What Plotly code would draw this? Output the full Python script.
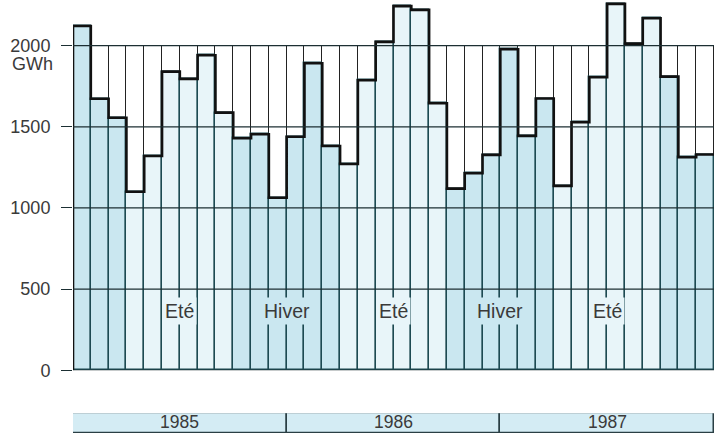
import plotly.graph_objects as go

# ---- data ----
years = [1985, 1986, 1987]
month_index = list(range(36))
values = [2121, 1673, 1556, 1100, 1320, 1840, 1795, 1941, 1587, 1429, 1454, 1063,
          1439, 1891, 1382, 1271, 1787, 2023, 2243, 2220, 1645, 1119, 1214, 1327,
          1978, 1444, 1674, 1136, 1528, 1805, 2257, 2012, 2169, 1809, 1312, 1329]
y_ticks = [0, 500, 1000, 1500, 2000]
season_labels = ["Eté", "Hiver", "Eté", "Hiver", "Eté"]
unit_label = "GWh"

# ---- styles ----
LIGHT = "#e8f5f9"
DARK = "#cae7f0"
GRID = "#1c2f33"
BARLINE = "#1d4a52"
TEXT = "#3a3a3a"
FONT = "Liberation Sans, Arial, sans-serif"

def is_summer(i):
    m = i % 12
    return 3 <= m <= 8

fill_colors = [LIGHT if is_summer(i) else DARK for i in month_index]

fig = go.Figure()

# column frames up to the 2000 level (white region lines)
fig.add_trace(go.Bar(x=month_index, y=[y_ticks[-1]] * 36, width=1,
                     marker=dict(color="rgba(0,0,0,0)", line=dict(color="#222", width=1)),
                     hoverinfo="skip", showlegend=False))
# filled bars
fig.add_trace(go.Bar(x=month_index, y=values, width=1,
                     marker=dict(color=fill_colors, line=dict(color=BARLINE, width=1.4)),
                     showlegend=False))
# step outline
sx = [month_index[0] - 0.5] + [i - 0.5 for i in month_index] + [month_index[-1] + 0.5]
sy = [0] + values + [values[-1]]
fig.add_trace(go.Scatter(x=sx, y=sy, mode="lines", line=dict(color="#111", width=2.6, shape="hv"),
                         hoverinfo="skip", showlegend=False))

# year band
year_centers = [k * 12 + 5.5 for k in range(len(years))]
fig.add_trace(go.Bar(x=year_centers, y=[1] * len(years), width=12, yaxis="y2",
                     marker=dict(color="#d4ecf4", line=dict(color="#2a3f44", width=1.5)),
                     hoverinfo="skip", showlegend=False))

# horizontal grid lines above bars
shapes = []
for v in y_ticks:
    shapes.append(dict(type="line", xref="paper", yref="y", x0=0, x1=1, y0=v, y1=v,
                       line=dict(color=GRID, width=1.3), layer="above"))

annotations = []
# year labels
for xc, yr in zip(year_centers, years):
    annotations.append(dict(x=xc, y=0.5, xref="x", yref="y2", text=str(yr), showarrow=False,
                            yanchor="middle", yshift=1,
                            font=dict(size=17.5, color=TEXT, family=FONT)))
# season labels
for k, lab in enumerate(season_labels):
    xpos = k * 6 + 5.5
    annotations.append(dict(x=xpos, y=365, xref="x", yref="y", text=lab, showarrow=False,
                            font=dict(size=19.5, color=TEXT, family=FONT),
                            bgcolor=LIGHT if lab == "Eté" else DARK, borderpad=2))
annotations.append(dict(x=0, xref="paper", y=y_ticks[-1], yref="y", text=unit_label,
                        showarrow=False, xanchor="right", yanchor="middle",
                        xshift=-18, yshift=-18, font=dict(size=18, color=TEXT, family=FONT)))

fig.update_layout(
    width=724, height=433,
    margin=dict(l=73, r=10, t=0, b=0, autoexpand=False),
    paper_bgcolor="white", plot_bgcolor="white",
    barmode="overlay", bargap=0,
    font=dict(family=FONT, size=17, color=TEXT),
    xaxis=dict(range=[-0.5, 35.5], showgrid=False, zeroline=False, showticklabels=False,
               showline=False, ticks="", automargin=False),
    yaxis=dict(domain=[0.1448, 1], range=[0, 2281], tickvals=y_ticks, showgrid=False,
               zeroline=False, showline=False, ticks="outside", ticklen=11,
               tickcolor=GRID, tickwidth=1.3, ticklabelstandoff=7, automargin=False,
               tickfont=dict(size=18, color=TEXT, family=FONT)),
    yaxis2=dict(domain=[0, 0.0455], range=[0, 1], showgrid=False, zeroline=False,
                showticklabels=False, showline=False, anchor="x", automargin=False),
    shapes=shapes, annotations=annotations,
)

fig.write_html("out.html", config={"displayModeBar": False},
               post_script="document.body.style.margin='0px';")
